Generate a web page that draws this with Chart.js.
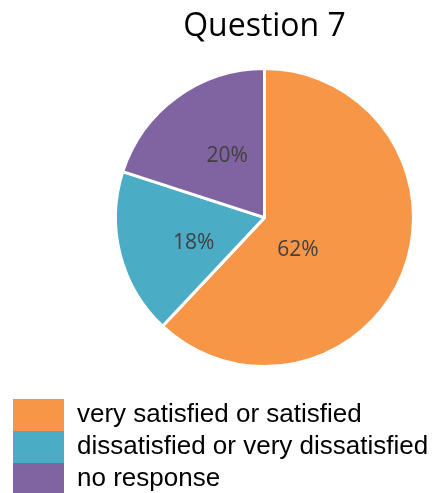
<!DOCTYPE html>
<html>
<head>
<meta charset="utf-8">
<script src="https://cdn.jsdelivr.net/npm/chart.js@4.4.1/dist/chart.umd.min.js"></script>
<style>
  html, body { margin: 0; padding: 0; background: #fff; }
  #wrap { position: relative; width: 438px; height: 493px; }
</style>
</head>
<body>
<div id="wrap"><canvas id="pieChart"></canvas></div>
<script>
// ---------------- Data ----------------
const chartTitle = "Question 7";
const categories = ["very satisfied or satisfied", "dissatisfied or very dissatisfied", "no response"];
const percentValues = [62, 18, 20];
const sliceColors = ["#F79646", "#4BACC6", "#8064A2"];

// where each percent label sits inside its slice (fraction of radius, angle shift in degrees)
const labelRadius = [0.30, 0.50, 0.50];
const labelAngleShift = [20, -3.5, 6];

// draw the "62%" style labels on the slices
const sliceLabels = {
    id: "sliceLabels",
    afterDatasetsDraw(chart) {
        const ctx = chart.ctx;
        const meta = chart.getDatasetMeta(0);
        ctx.save();
        ctx.font = "21px 'Open Sans'";
        ctx.fillStyle = "#404040";
        ctx.textAlign = "center";
        ctx.textBaseline = "middle";
        meta.data.forEach((arc, i) => {
            const p = arc.getProps(["x", "y", "startAngle", "endAngle", "outerRadius"], true);
            const mid = (p.startAngle + p.endAngle) / 2 + labelAngleShift[i] * Math.PI / 180;
            const r = p.outerRadius * labelRadius[i];
            ctx.fillText(percentValues[i] + "%", p.x + Math.cos(mid) * r, p.y + Math.sin(mid) * r + 2.5);
        });
        ctx.restore();
    }
};

// legend sits at the left edge, under the pie
const legendPlacer = {
    id: "legendPlacer",
    afterLayout(chart) {
        const lg = chart.legend;
        lg.left = 13;
        lg.right = chart.width;
        lg.top = 399;
        lg.bottom = chart.height;
    }
};

const ctx = document.getElementById("pieChart").getContext("2d");

new Chart(ctx, {
    type: "pie",
    data: {
        labels: categories,
        datasets: [{
            data: percentValues,
            backgroundColor: sliceColors,
            borderColor: "#ffffff",
            borderWidth: 3
        }]
    },
    options: {
        responsive: true,
        maintainAspectRatio: false,
        animation: false,
        layout: {
            padding: { top: 17, left: 114, right: 23, bottom: 0 }
        },
        plugins: {
            title: {
                display: true,
                text: chartTitle,
                color: "#000000",
                font: { family: "'Open Sans'", size: 32, weight: "normal", lineHeight: 0.6 },
                padding: { top: 0, bottom: 12 }
            },
            legend: {
                position: "bottom",
                align: "start",
                labels: {
                    boxWidth: 51,
                    boxHeight: 32,
                    padding: 0,
                    color: "#000000",
                    font: { family: "'Liberation Sans'", size: 26 },
                    generateLabels: function (chart) {
                        const items = Chart.overrides.pie.plugins.legend.labels.generateLabels(chart);
                        return items.map(item => ({ ...item, lineWidth: 0 }));
                    }
                }
            },
            tooltip: { enabled: false }
        }
    },
    plugins: [sliceLabels, legendPlacer]
});
</script>
</body>
</html>
